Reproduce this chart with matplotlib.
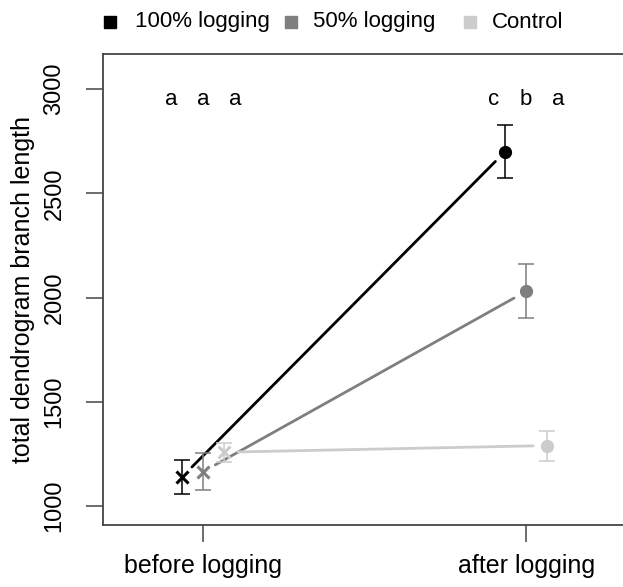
import matplotlib
matplotlib.use("Agg")
import matplotlib.pyplot as plt
from matplotlib.lines import Line2D

plt.rcParams['font.family'] = ['Liberation Sans', 'DejaVu Sans']

# ---- data ----
series = ["100% logging", "50% logging", "Control"]
colors = ["#000000", "#7f7f7f", "#cccccc"]
offsets = [-0.065, 0.0, 0.065]
before_mean = [1140, 1165, 1258]
before_err = [80, 88, 45]
after_mean = [2700, 2030, 1290]
after_err = [127, 130, 72]
letters_before = ["a", "a", "a"]
letters_after = ["c", "b", "a"]
letter_offsets = [-0.1, 0.0, 0.1]
letter_y = 2950
xticklabels = ["before logging", "after logging"]
yticks = [1000, 1500, 2000, 2500, 3000]

fig = plt.figure(figsize=(6.23, 5.87), dpi=100)
ax = fig.add_axes([103/623, 1 - 525/587, (626 - 103)/623, (525 - 54)/587])
ax.set_xlim(0.69, 2.309)
ax.set_ylim(909, 3168)

for i in range(3):
    xb = 1 + offsets[i]
    xa = 2 + offsets[i]
    c = colors[i]
    ax.annotate("", xy=(xa, after_mean[i]), xytext=(xb, before_mean[i]),
                arrowprops=dict(arrowstyle="-", color=c, lw=2.0,
                                shrinkA=10, shrinkB=10), zorder=2)
    ax.errorbar([xb], [before_mean[i]], yerr=[before_err[i]], fmt="none",
                ecolor=c, elinewidth=1.1, capsize=6, capthick=1.1, zorder=3)
    ax.errorbar([xa], [after_mean[i]], yerr=[after_err[i]], fmt="none",
                ecolor=c, elinewidth=1.1, capsize=6, capthick=1.1, zorder=3)
    ax.plot([xb], [before_mean[i]], marker="x", ms=9, mew=2.2, color=c,
            linestyle="none", zorder=4)
    ax.plot([xa], [after_mean[i]], marker="o", ms=8.5, color=c,
            linestyle="none", zorder=4)
    ax.text(1 + letter_offsets[i], letter_y, letters_before[i], ha="center",
            va="center", fontsize=16)
    ax.text(2 + letter_offsets[i], letter_y, letters_after[i], ha="center",
            va="center", fontsize=16)

ax.set_xticks([1, 2])
ax.set_xticklabels(xticklabels, fontsize=18)
ax.set_yticks(yticks)
ax.set_yticklabels([str(v) for v in yticks], fontsize=17, rotation=90,
                   va="center")
ax.tick_params(axis="x", length=12, width=1.1, color="#444444", pad=9)
ax.tick_params(axis="y", length=12, width=1.1, color="#444444", pad=15)
ax.set_ylabel("total dendrogram branch length", fontsize=18, labelpad=6)
for s in ax.spines.values():
    s.set_color("#444444")
    s.set_linewidth(1.3)

# ---- legend (manual, above plot) ----
sq_x = [110, 291, 470]
tx_x = [135, 313, 492]
ly = 1 - 22/587
for i in range(3):
    fig.add_artist(Line2D([sq_x[i]/623], [ly], marker="s", ms=8,
                          color=colors[i], linestyle="none",
                          transform=fig.transFigure))
    fig.text(tx_x[i]/623, ly, series[i], ha="left", va="center", fontsize=16)

fig.savefig("out.png", dpi=100)
